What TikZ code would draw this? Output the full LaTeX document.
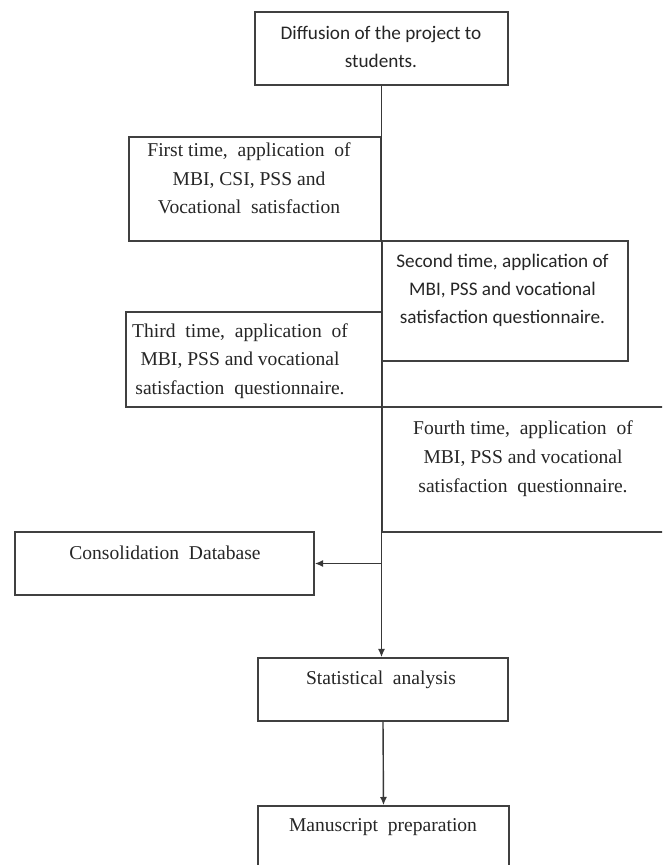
\documentclass[tikz,border=0pt]{standalone}
\usepackage{fontspec}
\usepackage{tikz}
\usetikzlibrary{arrows.meta,positioning}
\newfontfamily\serifbox{Liberation Serif}
\newfontfamily\sansbox{Carlito}
\tikzset{
  box/.style={draw=black!75,line width=1.4pt,fill=white,inner sep=0pt},
  stxt/.style={align=center,inner sep=0pt,font=\serifbox\fontsize{16.7}{24.5}\selectfont,text=black!85},
  ctxt/.style={align=center,inner sep=0pt,font=\sansbox\fontsize{16.4}{23.8}\selectfont,text=black!85},
  arr/.style={draw=black!78,line width=1.2pt,-{Latex[length=7pt,width=6pt]}}
}
\begin{document}
\begin{tikzpicture}[x=0.03cm,y=-0.03cm]
\useasboundingbox (0,0) rectangle (662,865);
\clip (0,0) rectangle (662,865);
\node[box,minimum width=7.59cm,minimum height=2.19cm] (diffusion) at (381.5,48.5) {};
\node[box,minimum width=7.56cm,minimum height=3.12cm] (first) at (255,189) {};
\node[box,minimum width=7.38cm,minimum height=3.6cm] (second) at (505,301) {};
\node[box,minimum width=7.68cm,minimum height=2.85cm] (third) at (254,359.5) {};
\node[box,minimum width=8.52cm,minimum height=3.75cm] (fourth) at (524,469.5) {};
\node[box,minimum width=8.97cm,minimum height=1.89cm] (consol) at (164.5,563.5) {};
\node[box,minimum width=7.5cm,minimum height=1.89cm] (stats) at (383,689.5) {};
\node[box,minimum width=7.53cm,minimum height=1.98cm] (manus) at (383.5,839) {};
% texts sit in the upper part of each box
\node[ctxt] (diffusion-t) at (381,47) {Diffusion of the project to\\students.};
\node[stxt] (first-t) at (249,178.5) {First time,\ \ application\ \ of\\MBI, CSI, PSS and\\Vocational\ \ satisfaction};
\node[ctxt] (second-t) at (502.5,290) {Second time, application of\\MBI, PSS and vocational\\satisfaction questionnaire.};
\node[stxt] (third-t) at (240,361) {Third\ \ time,\ \ application\ \ of\\MBI, PSS and vocational\\satisfaction\ \ questionnaire.};
\node[stxt] (fourth-t) at (523,458.5) {Fourth time,\ \ application\ \ of\\MBI, PSS and vocational\\satisfaction\ \ questionnaire.};
\node[stxt] (consol-t) at (165,553) {Consolidation\ \ Database};
\node[stxt] (stats-t) at (381,680) {Statistical\ \ analysis};
\node[stxt] (manus-t) at (383,827) {Manuscript\ \ preparation};
% connectors
\draw[arr] (diffusion.south) -- (diffusion.south |- stats.north);
\draw[arr] (diffusion.south |- consol.east) -- (consol.east);
\draw[arr] (stats.south) -- (manus.north);
\end{tikzpicture}
\end{document}
